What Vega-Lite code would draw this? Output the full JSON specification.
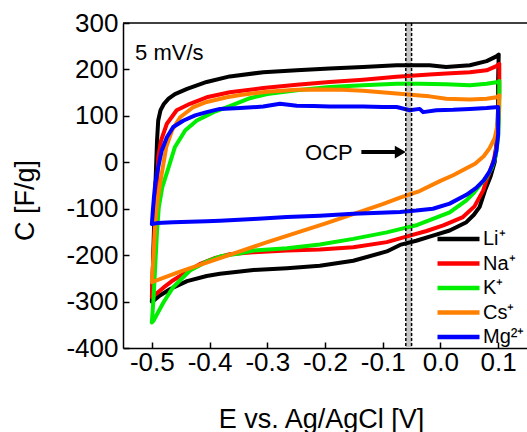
{
"$schema":"https://vega.github.io/schema/vega-lite/v6.json",
"width":404,"height":325,
"autosize":{"type":"none"},
"padding":{"left":123,"top":23,"right":0,"bottom":84},
"config":{"view":{"stroke":null},"font":"Liberation Sans",
"axis":{"domainColor":"black","domainWidth":1.5,"tickColor":"black","tickWidth":1.5,"tickSize":-6,"labelFont":"Liberation Sans","labelFontSize":26,"labelColor":"black","titleFont":"Liberation Sans","titleFontSize":27,"titleFontWeight":"normal","titleColor":"black","grid":false,"labelOverlap":false,"labelFlush":false}},
"layer":[
{"data":{"values":[{"e":-0.06,"e2":-0.05}]},"mark":{"type":"rect","color":"#c6c6c6"},"encoding":{"x":{"field":"e","type":"quantitative"},"x2":{"field":"e2"}}},
{"data":{"values":[
{"s":"Li⁺","i":1,"e":-0.5,"c":-300},{"s":"Li⁺","i":2,"e":-0.498,"c":-220},{"s":"Li⁺","i":3,"e":-0.496,"c":-130},{"s":"Li⁺","i":4,"e":-0.494,"c":-54},{"s":"Li⁺","i":5,"e":-0.491,"c":47},{"s":"Li⁺","i":6,"e":-0.489,"c":90},{"s":"Li⁺","i":7,"e":-0.485,"c":112},{"s":"Li⁺","i":8,"e":-0.479,"c":126},{"s":"Li⁺","i":9,"e":-0.471,"c":137},{"s":"Li⁺","i":10,"e":-0.46,"c":147},{"s":"Li⁺","i":11,"e":-0.439,"c":158},{"s":"Li⁺","i":12,"e":-0.405,"c":173},{"s":"Li⁺","i":13,"e":-0.365,"c":185},{"s":"Li⁺","i":14,"e":-0.307,"c":194},{"s":"Li⁺","i":15,"e":-0.249,"c":198},{"s":"Li⁺","i":16,"e":-0.192,"c":202},{"s":"Li⁺","i":17,"e":-0.134,"c":205},{"s":"Li⁺","i":18,"e":-0.076,"c":209},{"s":"Li⁺","i":19,"e":-0.019,"c":209},{"s":"Li⁺","i":20,"e":0.01,"c":205},{"s":"Li⁺","i":21,"e":0.051,"c":209},{"s":"Li⁺","i":22,"e":0.08,"c":218},{"s":"Li⁺","i":23,"e":0.097,"c":228},{"s":"Li⁺","i":24,"e":0.101,"c":232},{"s":"Li⁺","i":25,"e":0.1,"c":180},{"s":"Li⁺","i":26,"e":0.1,"c":120},{"s":"Li⁺","i":27,"e":0.098,"c":50},{"s":"Li⁺","i":28,"e":0.094,"c":0},{"s":"Li⁺","i":29,"e":0.087,"c":-30},{"s":"Li⁺","i":30,"e":0.078,"c":-58},{"s":"Li⁺","i":31,"e":0.068,"c":-96},{"s":"Li⁺","i":32,"e":0.058,"c":-113},{"s":"Li⁺","i":33,"e":0.045,"c":-129},{"s":"Li⁺","i":34,"e":0.016,"c":-147},{"s":"Li⁺","i":35,"e":-0.013,"c":-158},{"s":"Li⁺","i":36,"e":-0.042,"c":-169},{"s":"Li⁺","i":37,"e":-0.07,"c":-178},{"s":"Li⁺","i":38,"e":-0.093,"c":-192},{"s":"Li⁺","i":39,"e":-0.151,"c":-212},{"s":"Li⁺","i":40,"e":-0.209,"c":-223},{"s":"Li⁺","i":41,"e":-0.266,"c":-228},{"s":"Li⁺","i":42,"e":-0.324,"c":-232},{"s":"Li⁺","i":43,"e":-0.347,"c":-235},{"s":"Li⁺","i":44,"e":-0.382,"c":-240},{"s":"Li⁺","i":45,"e":-0.405,"c":-245},{"s":"Li⁺","i":46,"e":-0.439,"c":-256},{"s":"Li⁺","i":47,"e":-0.468,"c":-273},{"s":"Li⁺","i":48,"e":-0.486,"c":-287},{"s":"Li⁺","i":49,"e":-0.497,"c":-298},{"s":"Li⁺","i":50,"e":-0.5,"c":-300},
{"s":"Na⁺","i":1,"e":-0.5,"c":-290},{"s":"Na⁺","i":2,"e":-0.498,"c":-220},{"s":"Na⁺","i":3,"e":-0.495,"c":-140},{"s":"Na⁺","i":4,"e":-0.491,"c":-54},{"s":"Na⁺","i":5,"e":-0.489,"c":11},{"s":"Na⁺","i":6,"e":-0.484,"c":47},{"s":"Na⁺","i":7,"e":-0.474,"c":83},{"s":"Na⁺","i":8,"e":-0.457,"c":112},{"s":"Na⁺","i":9,"e":-0.434,"c":126},{"s":"Na⁺","i":10,"e":-0.405,"c":140},{"s":"Na⁺","i":11,"e":-0.365,"c":151},{"s":"Na⁺","i":12,"e":-0.307,"c":160},{"s":"Na⁺","i":13,"e":-0.249,"c":167},{"s":"Na⁺","i":14,"e":-0.192,"c":173},{"s":"Na⁺","i":15,"e":-0.134,"c":178},{"s":"Na⁺","i":16,"e":-0.076,"c":184},{"s":"Na⁺","i":17,"e":-0.019,"c":189},{"s":"Na⁺","i":18,"e":0.01,"c":191},{"s":"Na⁺","i":19,"e":0.051,"c":194},{"s":"Na⁺","i":20,"e":0.08,"c":198},{"s":"Na⁺","i":21,"e":0.097,"c":207},{"s":"Na⁺","i":22,"e":0.102,"c":212},{"s":"Na⁺","i":23,"e":0.102,"c":150},{"s":"Na⁺","i":24,"e":0.1,"c":80},{"s":"Na⁺","i":25,"e":0.097,"c":35},{"s":"Na⁺","i":26,"e":0.093,"c":8},{"s":"Na⁺","i":27,"e":0.087,"c":-15},{"s":"Na⁺","i":28,"e":0.08,"c":-38},{"s":"Na⁺","i":29,"e":0.074,"c":-61},{"s":"Na⁺","i":30,"e":0.059,"c":-95},{"s":"Na⁺","i":31,"e":0.039,"c":-118},{"s":"Na⁺","i":32,"e":0.005,"c":-136},{"s":"Na⁺","i":33,"e":-0.024,"c":-148},{"s":"Na⁺","i":34,"e":-0.053,"c":-158},{"s":"Na⁺","i":35,"e":-0.093,"c":-172},{"s":"Na⁺","i":36,"e":-0.151,"c":-183},{"s":"Na⁺","i":37,"e":-0.209,"c":-188},{"s":"Na⁺","i":38,"e":-0.266,"c":-190},{"s":"Na⁺","i":39,"e":-0.324,"c":-194},{"s":"Na⁺","i":40,"e":-0.365,"c":-198},{"s":"Na⁺","i":41,"e":-0.39,"c":-206},{"s":"Na⁺","i":42,"e":-0.415,"c":-218},{"s":"Na⁺","i":43,"e":-0.434,"c":-232},{"s":"Na⁺","i":44,"e":-0.463,"c":-254},{"s":"Na⁺","i":45,"e":-0.48,"c":-270},{"s":"Na⁺","i":46,"e":-0.494,"c":-285},{"s":"Na⁺","i":47,"e":-0.5,"c":-290},
{"s":"K⁺","i":1,"e":-0.5,"c":-345},{"s":"K⁺","i":2,"e":-0.497,"c":-291},{"s":"K⁺","i":3,"e":-0.494,"c":-219},{"s":"K⁺","i":4,"e":-0.491,"c":-147},{"s":"K⁺","i":5,"e":-0.488,"c":-97},{"s":"K⁺","i":6,"e":-0.482,"c":-54},{"s":"K⁺","i":7,"e":-0.471,"c":-11},{"s":"K⁺","i":8,"e":-0.46,"c":33},{"s":"K⁺","i":9,"e":-0.442,"c":69},{"s":"K⁺","i":10,"e":-0.422,"c":90},{"s":"K⁺","i":11,"e":-0.393,"c":108},{"s":"K⁺","i":12,"e":-0.365,"c":121},{"s":"K⁺","i":13,"e":-0.33,"c":138},{"s":"K⁺","i":14,"e":-0.3,"c":147},{"s":"K⁺","i":15,"e":-0.249,"c":155},{"s":"K⁺","i":16,"e":-0.192,"c":162},{"s":"K⁺","i":17,"e":-0.134,"c":166},{"s":"K⁺","i":18,"e":-0.076,"c":169},{"s":"K⁺","i":19,"e":-0.036,"c":169},{"s":"K⁺","i":20,"e":0.01,"c":168},{"s":"K⁺","i":21,"e":0.051,"c":166},{"s":"K⁺","i":22,"e":0.08,"c":169},{"s":"K⁺","i":23,"e":0.1,"c":173},{"s":"K⁺","i":24,"e":0.102,"c":175},{"s":"K⁺","i":25,"e":0.102,"c":120},{"s":"K⁺","i":26,"e":0.1,"c":55},{"s":"K⁺","i":27,"e":0.096,"c":15},{"s":"K⁺","i":28,"e":0.089,"c":-12},{"s":"K⁺","i":29,"e":0.08,"c":-32},{"s":"K⁺","i":30,"e":0.068,"c":-50},{"s":"K⁺","i":31,"e":0.057,"c":-67},{"s":"K⁺","i":32,"e":0.045,"c":-82},{"s":"K⁺","i":33,"e":0.016,"c":-108},{"s":"K⁺","i":34,"e":-0.013,"c":-122},{"s":"K⁺","i":35,"e":-0.04,"c":-135},{"s":"K⁺","i":36,"e":-0.07,"c":-144},{"s":"K⁺","i":37,"e":-0.093,"c":-151},{"s":"K⁺","i":38,"e":-0.151,"c":-165},{"s":"K⁺","i":39,"e":-0.209,"c":-177},{"s":"K⁺","i":40,"e":-0.266,"c":-185},{"s":"K⁺","i":41,"e":-0.324,"c":-190},{"s":"K⁺","i":42,"e":-0.347,"c":-196},{"s":"K⁺","i":43,"e":-0.382,"c":-203},{"s":"K⁺","i":44,"e":-0.405,"c":-214},{"s":"K⁺","i":45,"e":-0.434,"c":-233},{"s":"K⁺","i":46,"e":-0.463,"c":-269},{"s":"K⁺","i":47,"e":-0.48,"c":-302},{"s":"K⁺","i":48,"e":-0.497,"c":-341},{"s":"K⁺","i":49,"e":-0.5,"c":-345},
{"s":"Cs⁺","i":1,"e":-0.5,"c":-258},{"s":"Cs⁺","i":2,"e":-0.497,"c":-200},{"s":"Cs⁺","i":3,"e":-0.494,"c":-130},{"s":"Cs⁺","i":4,"e":-0.49,"c":-80},{"s":"Cs⁺","i":5,"e":-0.485,"c":-40},{"s":"Cs⁺","i":6,"e":-0.481,"c":-11},{"s":"Cs⁺","i":7,"e":-0.475,"c":33},{"s":"Cs⁺","i":8,"e":-0.465,"c":69},{"s":"Cs⁺","i":9,"e":-0.451,"c":97},{"s":"Cs⁺","i":10,"e":-0.428,"c":119},{"s":"Cs⁺","i":11,"e":-0.405,"c":130},{"s":"Cs⁺","i":12,"e":-0.37,"c":140},{"s":"Cs⁺","i":13,"e":-0.347,"c":145},{"s":"Cs⁺","i":14,"e":-0.3,"c":152},{"s":"Cs⁺","i":15,"e":-0.25,"c":156},{"s":"Cs⁺","i":16,"e":-0.214,"c":157},{"s":"Cs⁺","i":17,"e":-0.17,"c":156},{"s":"Cs⁺","i":18,"e":-0.134,"c":154},{"s":"Cs⁺","i":19,"e":-0.076,"c":148},{"s":"Cs⁺","i":20,"e":-0.036,"c":144},{"s":"Cs⁺","i":21,"e":-0.019,"c":142},{"s":"Cs⁺","i":22,"e":0.01,"c":137},{"s":"Cs⁺","i":23,"e":0.051,"c":135},{"s":"Cs⁺","i":24,"e":0.08,"c":137},{"s":"Cs⁺","i":25,"e":0.097,"c":140},{"s":"Cs⁺","i":26,"e":0.102,"c":144},{"s":"Cs⁺","i":27,"e":0.101,"c":110},{"s":"Cs⁺","i":28,"e":0.1,"c":90},{"s":"Cs⁺","i":29,"e":0.098,"c":75},{"s":"Cs⁺","i":30,"e":0.094,"c":52},{"s":"Cs⁺","i":31,"e":0.085,"c":30},{"s":"Cs⁺","i":32,"e":0.075,"c":13},{"s":"Cs⁺","i":33,"e":0.06,"c":-3},{"s":"Cs⁺","i":34,"e":0.045,"c":-13},{"s":"Cs⁺","i":35,"e":0.022,"c":-28},{"s":"Cs⁺","i":36,"e":0.0,"c":-40},{"s":"Cs⁺","i":37,"e":-0.036,"c":-62},{"s":"Cs⁺","i":38,"e":-0.07,"c":-76},{"s":"Cs⁺","i":39,"e":-0.1,"c":-90},{"s":"Cs⁺","i":40,"e":-0.15,"c":-111},{"s":"Cs⁺","i":41,"e":-0.2,"c":-132},{"s":"Cs⁺","i":42,"e":-0.25,"c":-152},{"s":"Cs⁺","i":43,"e":-0.3,"c":-172},{"s":"Cs⁺","i":44,"e":-0.35,"c":-193},{"s":"Cs⁺","i":45,"e":-0.4,"c":-214},{"s":"Cs⁺","i":46,"e":-0.45,"c":-235},{"s":"Cs⁺","i":47,"e":-0.5,"c":-258},
{"s":"Mg²⁺","i":1,"e":-0.5,"c":-133},{"s":"Mg²⁺","i":2,"e":-0.498,"c":-100},{"s":"Mg²⁺","i":3,"e":-0.496,"c":-70},{"s":"Mg²⁺","i":4,"e":-0.494,"c":-45},{"s":"Mg²⁺","i":5,"e":-0.489,"c":-11},{"s":"Mg²⁺","i":6,"e":-0.483,"c":25},{"s":"Mg²⁺","i":7,"e":-0.474,"c":54},{"s":"Mg²⁺","i":8,"e":-0.463,"c":76},{"s":"Mg²⁺","i":9,"e":-0.445,"c":90},{"s":"Mg²⁺","i":10,"e":-0.425,"c":101},{"s":"Mg²⁺","i":11,"e":-0.405,"c":108},{"s":"Mg²⁺","i":12,"e":-0.382,"c":115},{"s":"Mg²⁺","i":13,"e":-0.347,"c":117},{"s":"Mg²⁺","i":14,"e":-0.307,"c":120},{"s":"Mg²⁺","i":15,"e":-0.278,"c":126},{"s":"Mg²⁺","i":16,"e":-0.249,"c":122},{"s":"Mg²⁺","i":17,"e":-0.22,"c":121},{"s":"Mg²⁺","i":18,"e":-0.192,"c":120},{"s":"Mg²⁺","i":19,"e":-0.134,"c":120},{"s":"Mg²⁺","i":20,"e":-0.1,"c":119},{"s":"Mg²⁺","i":21,"e":-0.076,"c":119},{"s":"Mg²⁺","i":22,"e":-0.053,"c":112},{"s":"Mg²⁺","i":23,"e":-0.036,"c":115},{"s":"Mg²⁺","i":24,"e":-0.03,"c":108},{"s":"Mg²⁺","i":25,"e":-0.007,"c":112},{"s":"Mg²⁺","i":26,"e":0.022,"c":113},{"s":"Mg²⁺","i":27,"e":0.051,"c":115},{"s":"Mg²⁺","i":28,"e":0.08,"c":117},{"s":"Mg²⁺","i":29,"e":0.1,"c":119},{"s":"Mg²⁺","i":30,"e":0.1,"c":60},{"s":"Mg²⁺","i":31,"e":0.097,"c":25},{"s":"Mg²⁺","i":32,"e":0.092,"c":0},{"s":"Mg²⁺","i":33,"e":0.085,"c":-20},{"s":"Mg²⁺","i":34,"e":0.075,"c":-39},{"s":"Mg²⁺","i":35,"e":0.062,"c":-55},{"s":"Mg²⁺","i":36,"e":0.045,"c":-70},{"s":"Mg²⁺","i":37,"e":0.016,"c":-89},{"s":"Mg²⁺","i":38,"e":-0.013,"c":-100},{"s":"Mg²⁺","i":39,"e":-0.042,"c":-104},{"s":"Mg²⁺","i":40,"e":-0.07,"c":-107},{"s":"Mg²⁺","i":41,"e":-0.093,"c":-108},{"s":"Mg²⁺","i":42,"e":-0.151,"c":-111},{"s":"Mg²⁺","i":43,"e":-0.209,"c":-115},{"s":"Mg²⁺","i":44,"e":-0.266,"c":-118},{"s":"Mg²⁺","i":45,"e":-0.324,"c":-122},{"s":"Mg²⁺","i":46,"e":-0.382,"c":-126},{"s":"Mg²⁺","i":47,"e":-0.405,"c":-127},{"s":"Mg²⁺","i":48,"e":-0.463,"c":-129},{"s":"Mg²⁺","i":49,"e":-0.491,"c":-131},{"s":"Mg²⁺","i":50,"e":-0.5,"c":-133}
]},
"mark":{"type":"line","strokeWidth":4,"strokeJoin":"round","strokeCap":"round"},
"encoding":{
"x":{"field":"e","type":"quantitative","scale":{"domain":[-0.55,0.15],"nice":false,"zero":false},
"axis":{"values":[-0.5,-0.4,-0.3,-0.2,-0.1,0,0.1],"labelExpr":"replace(format(datum.value,'.1f'),'−','-')","labelBaseline":"alphabetic","labelPadding":28,"title":"E vs. Ag/AgCl [V]","titleX":198,"titleY":79,"titleBaseline":"alphabetic","titleAlign":"center","titleAnchor":null}},
"y":{"field":"c","type":"quantitative","scale":{"domain":[-400,300],"nice":false,"zero":false},
"axis":{"values":[-400,-300,-200,-100,0,100,200,300],"labelExpr":"replace(format(datum.value,'d'),'−','-')","labelPadding":11,"title":"C [F/g]","titleX":-90,"titleY":177,"titleAngle":270,"titleBaseline":"alphabetic","titleAlign":"center"}},
"color":{"field":"s","type":"nominal","scale":{"domain":["Li⁺","Na⁺","K⁺","Cs⁺","Mg²⁺"],"range":["#000000","#ff0000","#00ee00","#ff8000","#0000ff"]},
"legend":{"title":null,"orient":"none","legendX":312,"legendY":203,"symbolType":"M-2,0H2","symbolSize":441,"symbolStrokeWidth":4.5,"symbolOffset":10.5,"labelFontSize":20,"labelFont":"Liberation Sans","labelColor":"black","labelOffset":11.5,"padding":0,"rowPadding":1.5}},
"order":{"field":"i","type":"quantitative"}}},
{"data":{"values":[{"e":-0.06},{"e":-0.05}]},"mark":{"type":"rule","color":"black","strokeWidth":1.5,"strokeDash":[3,2]},"encoding":{"x":{"field":"e","type":"quantitative"}}},
{"data":{"values":[{"c":300}]},"mark":{"type":"rule","color":"black","strokeWidth":1.5},"encoding":{"y":{"field":"c","type":"quantitative"}}},
{"data":{"values":[{"e":-0.137,"e2":-0.076,"c":22}]},"mark":{"type":"rule","color":"black","strokeWidth":4},"encoding":{"x":{"field":"e","type":"quantitative"},"x2":{"field":"e2"},"y":{"field":"c","type":"quantitative"}}},
{"data":{"values":[{"e":-0.0695,"c":22}]},"mark":{"type":"point","shape":"triangle-right","filled":true,"color":"black","size":160,"opacity":1},"encoding":{"x":{"field":"e","type":"quantitative"},"y":{"field":"c","type":"quantitative"}}},
{"data":{"values":[{"e":-0.152,"c":6,"t":"OCP"}]},"mark":{"type":"text","align":"right","baseline":"alphabetic","fontSize":22,"font":"Liberation Sans","color":"black"},"encoding":{"x":{"field":"e","type":"quantitative"},"y":{"field":"c","type":"quantitative"},"text":{"field":"t"}}},
{"data":{"values":[{"e":-0.529,"c":221,"t":"5 mV/s"}]},"mark":{"type":"text","align":"left","baseline":"alphabetic","fontSize":22,"font":"Liberation Sans","color":"black"},"encoding":{"x":{"field":"e","type":"quantitative"},"y":{"field":"c","type":"quantitative"},"text":{"field":"t"}}}
]
}
